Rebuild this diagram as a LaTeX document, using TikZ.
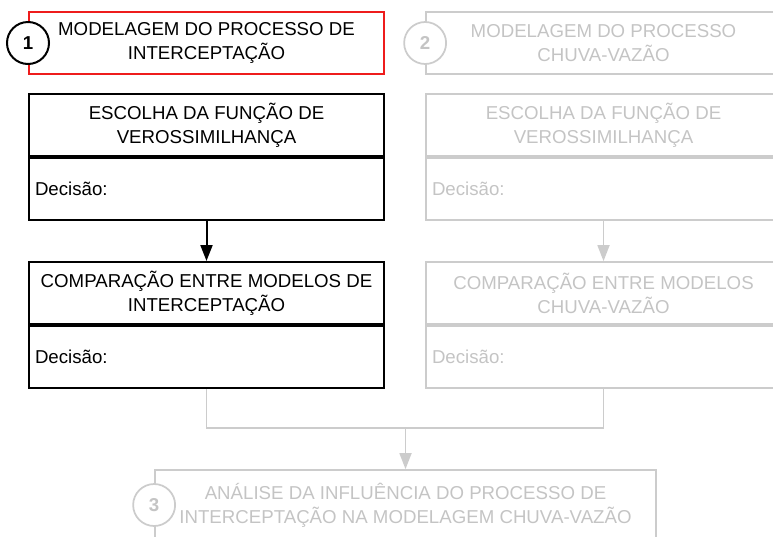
\documentclass[tikz,border=0pt]{standalone}
\usepackage{fontspec}
\setmainfont{Liberation Sans}
\usetikzlibrary{arrows.meta}
\definecolor{lg}{HTML}{CCCCCC}
\definecolor{lgt}{HTML}{C4C4C4}
\definecolor{rd}{HTML}{EE1C1C}
\begin{document}
\begin{tikzpicture}[x=0.75pt,y=-0.75pt,
  font=\fontsize{14}{18}\selectfont,
  box/.style={draw, line width=1.5pt, inner sep=0pt, minimum width=266.25pt,
    minimum height=46.5pt, align=center},
  act/.style={box, draw=black, text=black},
  off/.style={box, draw=lg, text=lgt, line width=1.3pt},
  dec/.style={text width=257.25pt, inner xsep=4.5pt, align=left},
  circ/.style={circle, draw=black, fill=white, line width=1.5pt, minimum size=31.5pt,
    inner sep=0pt, font=\bfseries\fontsize{14}{14}\selectfont},
  offcirc/.style={circ, draw=lg, text=lgt, line width=1.3pt},
  arr/.style={-{Triangle[width=9pt,length=12pt]}, line width=1.5pt, draw=black},
  offline/.style={line width=1.3pt, draw=lg},
  offarr/.style={offline, -{Triangle[width=9pt,length=12pt]}, color=lg}]
\useasboundingbox (0,0) rectangle (773,536);
\clip (0,0) rectangle (773,536);

% column 1
\node[act, draw=rd] (m1) at (206.5,43) {MODELAGEM DO PROCESSO DE\\INTERCEPTAÇÃO};
\node[circ] (c1) at (m1.west) {1};
\node[act] (e1) at (206.5,125) {ESCOLHA DA FUNÇÃO DE\\VEROSSIMILHANÇA};
\node[act, dec, anchor=north] (d1) at (e1.south) {Decisão:};
\node[act] (k1) at (206.5,293) {COMPARAÇÃO ENTRE MODELOS DE\\INTERCEPTAÇÃO};
\node[act, dec, anchor=north] (kd1) at (k1.south) {Decisão:};
\draw[arr] (d1.south) -- (k1.north);

% column 2
\node[off] (m2) at (603.5,43) {MODELAGEM DO PROCESSO\\CHUVA-VAZÃO};
\node[offcirc] (c2) at (m2.west) {2};
\node[off] (e2) at (603.5,125) {ESCOLHA DA FUNÇÃO DE\\VEROSSIMILHANÇA};
\node[off, dec, anchor=north] (d2) at (e2.south) {Decisão:};
\node[off] (k2) at (603.5,293) {COMPARAÇÃO ENTRE MODELOS\\CHUVA-VAZÃO};
\node[off, dec, anchor=north] (kd2) at (k2.south) {Decisão:};
\draw[offarr] (d2.south) -- (k2.north);

% bottom
\node[off, minimum width=375.75pt, minimum height=52.5pt] (a3) at (405.5,505)
  {ANÁLISE DA INFLUÊNCIA DO PROCESSO DE\\INTERCEPTAÇÃO NA MODELAGEM CHUVA-VAZÃO};
\node[offcirc] (c3) at (a3.west) {3};
\coordinate (j) at (405.5,428);
\draw[offline] (kd1.south) |- (j) -| (kd2.south);
\draw[offarr] (j) -- (a3.north);
\end{tikzpicture}
\end{document}
